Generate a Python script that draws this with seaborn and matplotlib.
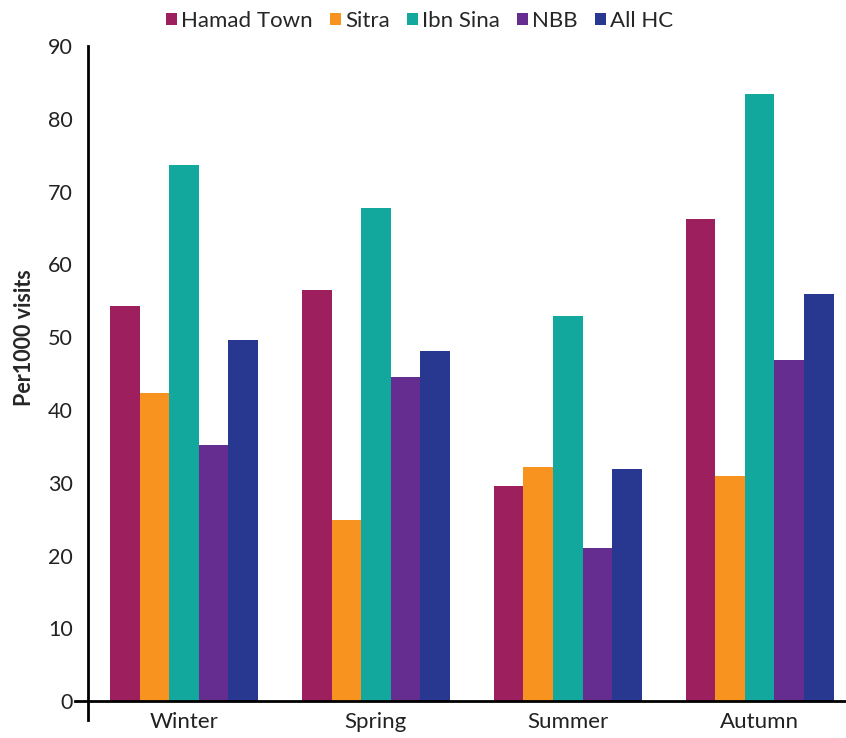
import matplotlib
matplotlib.use("Agg")
import matplotlib.pyplot as plt
import seaborn as sns
import pandas as pd

seasons = ["Winter", "Spring", "Summer", "Autumn"]
centres = ["Hamad Town", "Sitra", "Ibn Sina", "NBB", "All HC"]
hamad_town = [54.3, 56.5, 29.5, 66.2]
sitra = [42.3, 24.9, 32.1, 30.9]
ibn_sina = [73.6, 67.7, 52.9, 83.4]
nbb = [35.2, 44.5, 21.0, 46.8]
all_hc = [49.6, 48.1, 31.9, 55.9]
colors = ["#9E1F5E", "#F7931E", "#12A89D", "#662D91", "#283891"]

rows = []
for name, vals in zip(centres, [hamad_town, sitra, ibn_sina, nbb, all_hc]):
    for s, v in zip(seasons, vals):
        rows.append({"Season": s, "Centre": name, "Value": v})
df = pd.DataFrame(rows)

sns.set_style("white")
plt.rcParams['font.family'] = ['Lato', 'DejaVu Sans']

fig = plt.figure(figsize=(8.46, 7.38), dpi=100)
ax = fig.add_axes([75/846, 1-720/738, 1-75/846, (720-46)/738])
sns.barplot(data=df, x="Season", y="Value", hue="Centre", order=seasons,
            hue_order=centres, palette=colors, width=0.77, gap=0,
            saturation=1, linewidth=0, edgecolor="none", ax=ax, legend=True)

ax.set_xlim(-0.568, 3.45)
ax.set_ylim(-2.6, 90)
ax.set_yticks(range(0, 91, 10))
ax.spines['left'].set_position(('data', -0.5))
ax.spines['bottom'].set_position(('data', 0))
ax.spines['left'].set_bounds(-2.6, 90)
ax.spines['top'].set_visible(False)
ax.spines['right'].set_visible(False)
for sp in ['left', 'bottom']:
    ax.spines[sp].set_linewidth(2)
    ax.spines[sp].set_color('black')
ax.tick_params(axis='both', length=0, colors='#222222')
ax.tick_params(axis='y', pad=11, labelsize=15.5)
ax.tick_params(axis='x', pad=8, labelsize=16)
ax.set_xlabel("")
ax.set_ylabel("Per1000 visits", fontsize=15.5, fontweight='bold')
ax.yaxis.set_label_coords(-0.052, 0.568)

leg = ax.legend(loc='upper center', bbox_to_anchor=(0.447, 1.082), ncol=5,
                frameon=False, fontsize=16, handlelength=0.5, handleheight=0.5,
                handletextpad=0.2, columnspacing=0.75)

fig.savefig("out.png", dpi=100)
